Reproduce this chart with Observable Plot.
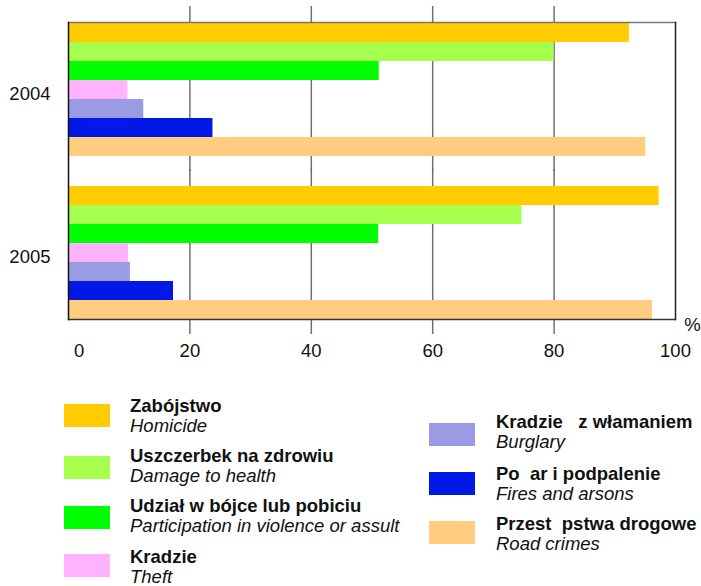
<!DOCTYPE html>
<html><head><meta charset="utf-8">
<script src="https://cdn.jsdelivr.net/npm/d3@7"></script>
<script src="https://cdn.jsdelivr.net/npm/@observablehq/plot@0.6"></script>
<style>
body{margin:0;background:#fff;font-family:"Liberation Sans",Arial,sans-serif}
#chart{width:701px;height:586px;position:relative}
svg{display:block}
</style>
</head><body><div id="chart"></div>
<script>
const years = ["2004", "2005"];
const categories = ["Homicide", "Damage to health", "Participation in violence or assult", "Theft", "Burglary", "Fires and arsons", "Road crimes"];
const categoriesPl = ["Zabójstwo", "Uszczerbek na zdrowiu", "Udział w bójce lub pobiciu", "Kradzie", "Kradzie   z włamaniem", "Po  ar i podpalenie", "Przest  pstwa drogowe"];
const values2004 = [92.4, 80.0, 51.2, 9.8, 12.4, 23.8, 95.1];
const values2005 = [97.3, 74.7, 51.1, 9.9, 10.2, 17.3, 96.2];
const colors = ["#ffcc00", "#a6ff4d", "#00ff00", "#ffb3ff", "#9b9be4", "#0019e6", "#ffcc80"];
const xTicks = [0, 20, 40, 60, 80, 100];
const gridTicks = [20, 40, 60, 80];

const data = [];
years.forEach((yr, i) => {
  const vals = i === 0 ? values2004 : values2005;
  categories.forEach((c, j) => data.push({year: yr, category: c, value: vals[j]}));
});

const font = '"Liberation Sans", Arial, sans-serif';
const plot = Plot.plot({
  width: 701, height: 370,
  marginLeft: 68, marginRight: 26, marginTop: 6, marginBottom: 36,
  style: {fontFamily: font, fontSize: "18.5px", color: "#000", background: "#fff", overflow: "visible"},
  x: {domain: [0, 100], axis: null},
  y: {domain: categories, padding: 0, axis: null},
  fy: {domain: years, paddingInner: 0.178, paddingOuter: 0.092, axis: null},
  color: {domain: categories, range: colors},
  marks: [
    Plot.ruleX(gridTicks, {x: d => d, stroke: "#707070", strokeWidth: 1.5, strokeOpacity: 1, insetTop: -16, insetBottom: -15}),
    Plot.barX(data, {x: "value", y: "category", fy: "year", fill: "category"}),
    Plot.frame({anchor: "top", stroke: "#777", strokeWidth: 1.5, facet: "super"}),
    Plot.frame({anchor: "left", stroke: "#111", strokeWidth: 1.5, facet: "super"}),
    Plot.frame({anchor: "right", stroke: "#222", strokeWidth: 1.5, facet: "super"}),
    Plot.frame({anchor: "bottom", stroke: "#333", strokeWidth: 1.5, facet: "super"}),
    Plot.text(years, {fy: d => d, text: d => d, frameAnchor: "left", textAnchor: "end", dx: -18, dy: 5, fill: "#111"}),
    Plot.text(xTicks.slice(1), {x: d => d, text: d => String(d), frameAnchor: "bottom", facetAnchor: "bottom", dy: 37, fill: "#111"}),
    Plot.text(xTicks.slice(0, 1), {x: d => d, text: d => String(d), frameAnchor: "bottom", facetAnchor: "bottom", dy: 37, dx: 10.7, fill: "#111"}),
    Plot.text(["%"], {text: d => d, frameAnchor: "bottom-right", facetAnchor: "bottom", dx: 17, dy: 11, textAnchor: "middle", fill: "#111"})
  ]
});
document.getElementById("chart").appendChild(plot);

// Legend (below the plot SVG)
const legendTop = 370;
const leg = d3.select("#chart").append("svg")
  .attr("width", 701).attr("height", 216)
  .style("font-family", font).style("font-size", "18.5px");
const legendItems = [
  {i: 0, sx: 64, sy: 404, tx: 130, by: 412},
  {i: 1, sx: 64, sy: 456, tx: 130, by: 462},
  {i: 2, sx: 64, sy: 506, tx: 130, by: 512},
  {i: 3, sx: 64, sy: 554, tx: 130, by: 563},
  {i: 4, sx: 429, sy: 423, tx: 496, by: 428},
  {i: 5, sx: 429, sy: 472, tx: 496, by: 480},
  {i: 6, sx: 429, sy: 521, tx: 496, by: 530}
];
legendItems.forEach(d => {
  leg.append("rect").attr("x", d.sx).attr("y", d.sy - legendTop).attr("width", 46).attr("height", 23).attr("fill", colors[d.i]);
  leg.append("text").attr("x", d.tx).attr("y", d.by - legendTop).attr("font-weight", "bold").attr("fill", "#111")
    .style("white-space", "pre").attr("xml:space", "preserve").text(categoriesPl[d.i]);
  leg.append("text").attr("x", d.tx).attr("y", d.by + 20 - legendTop).attr("font-style", "italic").attr("fill", "#111").text(categories[d.i]);
});
</script>
</body></html>
